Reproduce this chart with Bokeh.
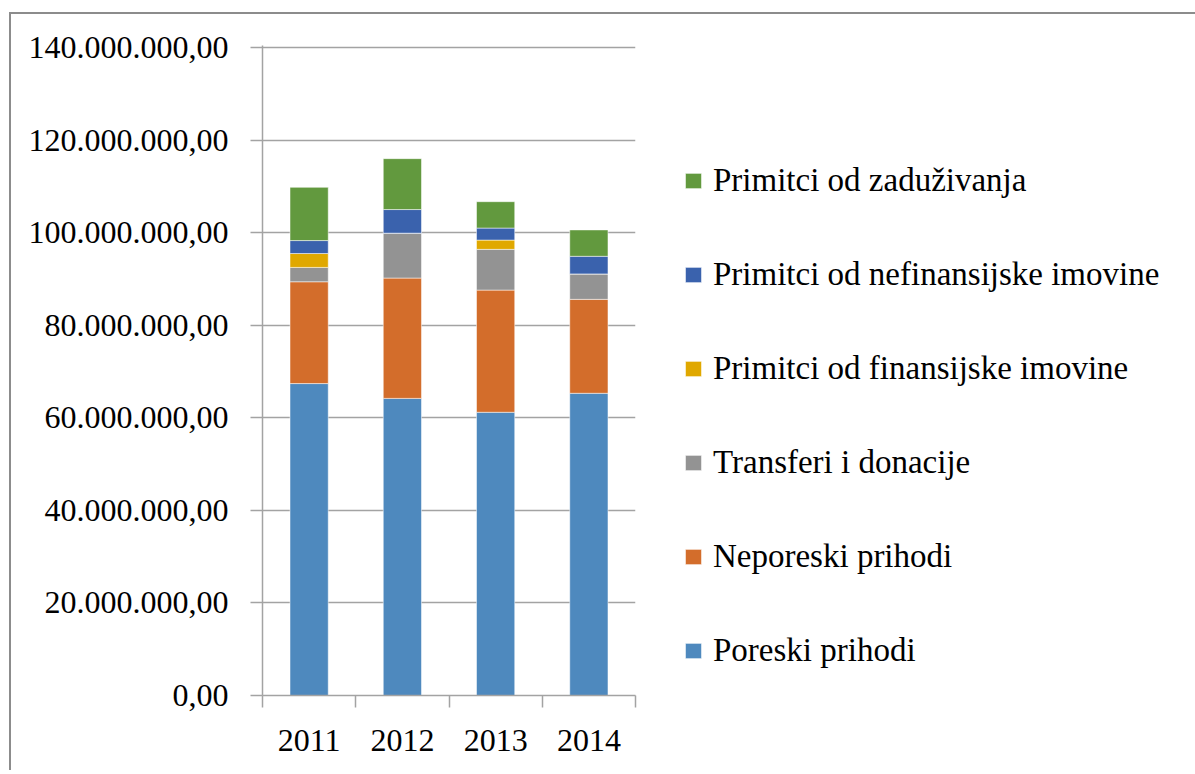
from bokeh.plotting import figure
from bokeh.models import Range1d, FixedTicker, Legend, LegendItem
from bokeh.embed import file_html
from bokeh.resources import INLINE

years = ["2011", "2012", "2013", "2014"]
poreski = [67.4e6, 64.2e6, 61.2e6, 65.3e6]
neporeski = [22.0e6, 26.0e6, 26.4e6, 20.3e6]
transferi = [3.1e6, 9.7e6, 8.8e6, 5.5e6]
finansijske = [3.0e6, 0.0, 2.0e6, 0.0]
nefinansijske = [2.8e6, 5.1e6, 2.6e6, 3.8e6]
zaduzivanja = [11.5e6, 11.0e6, 5.7e6, 5.7e6]

series_names = ["Poreski prihodi", "Neporeski prihodi", "Transferi i donacije",
                "Primitci od finansijske imovine", "Primitci od nefinansijske imovine",
                "Primitci od zaduživanja"]
series_colors = ["#4E89BE", "#D36D2B", "#939393", "#E0A800", "#3A62AD", "#62993E"]

y_ticks = [0, 20e6, 40e6, 60e6, 80e6, 100e6, 120e6, 140e6]
y_tick_labels = ["0,00", "20.000.000,00", "40.000.000,00", "60.000.000,00",
                 "80.000.000,00", "100.000.000,00", "120.000.000,00", "140.000.000,00"]

FONT = "Liberation Serif"
GRID = "#A3A3A3"

x_centers = [i + 0.5 for i in range(len(years))]
keys = ["s%d" % i for i in range(len(series_names))]
data = {"x": x_centers}
for k, vals in zip(keys, [poreski, neporeski, transferi, finansijske, nefinansijske, zaduzivanja]):
    data[k] = vals

p = figure(output_backend="svg", toolbar_location=None,
           frame_width=373, frame_height=650,
           min_border_left=251, min_border_right=555,
           min_border_top=31, min_border_bottom=75,
           x_range=Range1d(0, len(years)), y_range=Range1d(0, 140.45e6))
p.margin = (12, 0, 0, 9)
p.outline_line_color = None
p.background_fill_color = "white"
p.border_fill_color = "white"
p.styles = {"border-top": "2px solid #8c8c8c", "border-left": "2px solid #8c8c8c"}

rs = p.vbar_stack(keys, x="x", width=0.41, source=data, color=series_colors,
                  line_color="white", line_width=1, line_alpha=0.5)

# axes
p.xgrid.grid_line_color = None
p.ygrid.ticker = FixedTicker(ticks=y_ticks)
p.ygrid.grid_line_color = GRID
p.ygrid.grid_line_width = 1.5

yax = p.yaxis[0]
yax.ticker = FixedTicker(ticks=y_ticks)
yax.major_label_overrides = {t: l for t, l in zip(y_ticks, y_tick_labels)}
yax.axis_line_color = GRID
yax.axis_line_width = 1.5
yax.major_tick_line_color = GRID
yax.major_tick_line_width = 1.5
yax.major_tick_out = 12
yax.major_tick_in = 0
yax.minor_tick_line_color = None
yax.major_label_standoff = 22
yax.major_label_text_font = FONT
yax.major_label_text_font_size = "32px"
yax.major_label_text_color = "black"

xax = p.xaxis[0]
xax.ticker = FixedTicker(ticks=x_centers, minor_ticks=list(range(len(years) + 1)))
xax.major_label_overrides = {c: y for c, y in zip(x_centers, years)}
xax.axis_line_color = GRID
xax.axis_line_width = 1.5
xax.major_tick_line_color = None
xax.minor_tick_line_color = GRID
xax.minor_tick_line_width = 1.5
xax.minor_tick_out = 12
xax.minor_tick_in = 0
xax.major_label_standoff = 22
xax.major_label_text_font = FONT
xax.major_label_text_font_size = "32px"
xax.major_label_text_color = "black"

items = [LegendItem(label=n, renderers=[r]) for n, r in zip(series_names, rs)][::-1]
legend = Legend(items=items, location=(48, 26), orientation="vertical",
                glyph_width=20, glyph_height=19, label_standoff=10,
                spacing=57, padding=0, margin=0,
                label_text_font=FONT, label_text_font_size="33px",
                label_text_color="black",
                border_line_color=None, background_fill_alpha=0)
p.add_layout(legend, "right")

open("out.html", "w").write(file_html(p, INLINE))
